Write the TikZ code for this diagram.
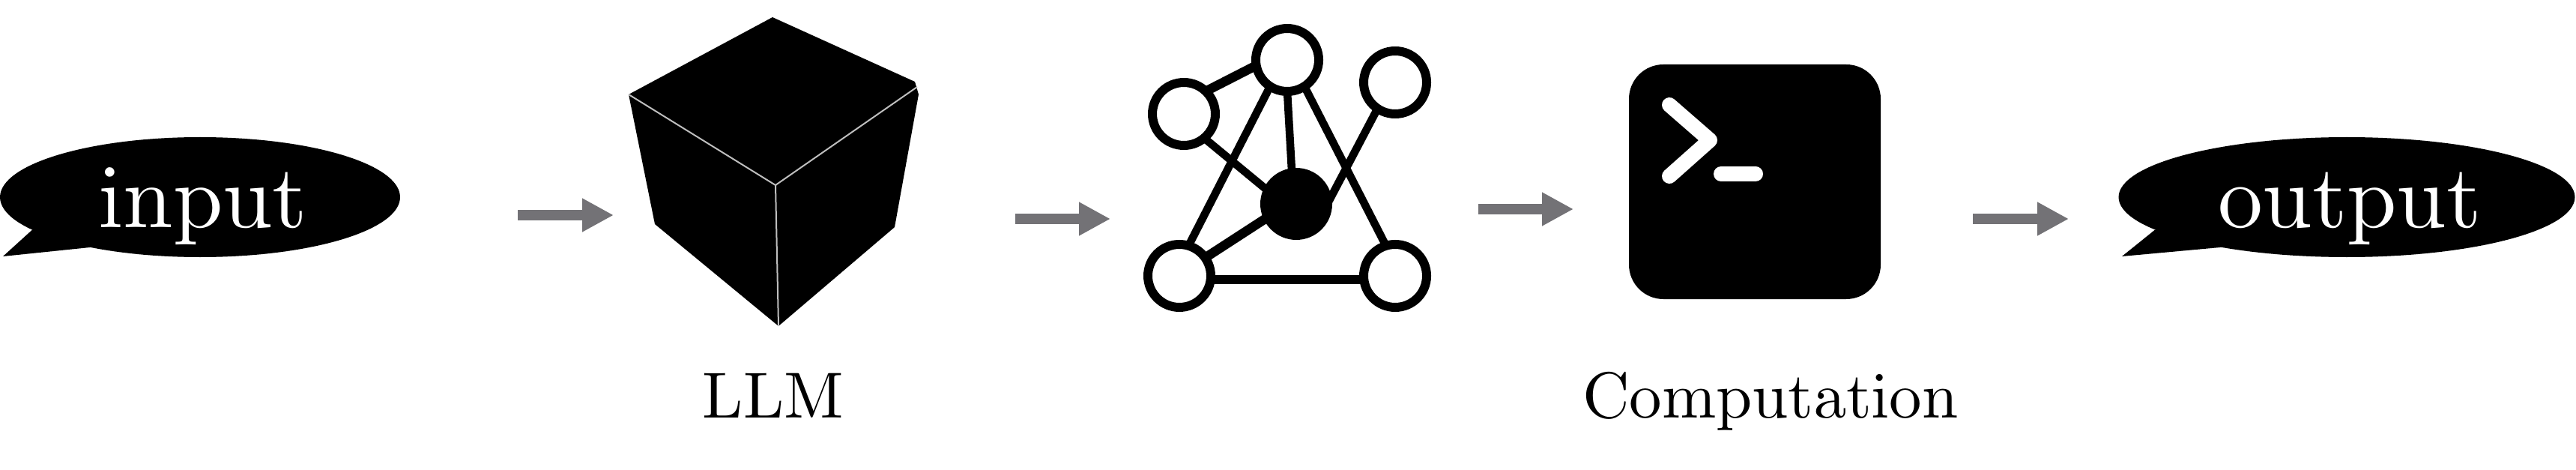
\documentclass[tikz,border=0pt]{standalone}
\usepackage{amsmath}
\usepackage{tikz}
\usetikzlibrary{arrows.meta}
\usetikzlibrary{shapes.geometric}
\definecolor{flowgray}{RGB}{115,114,118}
\definecolor{edgegray}{RGB}{190,190,190}
\font\bubblefont=cmr10 at 34pt
\font\captionfont=cmr10 at 24.7pt
\tikzset{
    bubble/.style={ellipse,fill=black,inner sep=0pt,outer sep=0pt,minimum height=1.6cm},
    bubbletext/.style={anchor=base,text=white,inner sep=0pt,font=\bubblefont},
    caption/.style={anchor=base,inner sep=0pt,font=\captionfont},
    flow/.style={draw=flowgray,line width=.14cm,-{Triangle[length=.42cm,width=.42cm,fill=flowgray]}},
    graphnode/.style={circle,draw=black,fill=white,line width=.12cm,inner sep=0pt,outer sep=0pt,minimum size=.84cm},
    graphedge/.style={draw=black,line width=.105cm},
    heavyedge/.style={draw=black,line width=.125cm},
    cubeline/.style={draw=edgegray,line width=.02cm},
    promptline/.style={draw=white,line width=.2cm,line cap=round,line join=round}
}
\begin{document}
\begin{tikzpicture}
    \useasboundingbox (0,0) rectangle (34.38,6.26);

    % input bubble
    \node[bubble,minimum width=5.34cm] (inbubble) at (2.67,3.63) {};
    \fill[black] (.04,2.84) -- (.43,3.194) -- (1.6,3.3) -- (1.2,2.96) -- cycle;
    \node[bubbletext] (intext) at (2.71,3.23) {input};

    \coordinate (flowAstart) at (6.91,3.39);
    \coordinate (flowAend) at (8.19,3.39);
    \draw[flow] (flowAstart) -- (flowAend);

    % cube
    \coordinate (cubetop) at (10.31,6.03);
    \coordinate (cubeleft) at (8.39,5.00);
    \coordinate (cubemid) at (10.35,3.79);
    \coordinate (cuberight) at (12.24,5.10);
    \coordinate (cubelow) at (10.39,1.91);
    \fill[black] (cubetop) -- (12.21,5.17) -- (12.26,5.00) -- (11.94,3.23) -- (cubelow) -- (8.74,3.27) -- (cubeleft) -- cycle;
    \draw[cubeline] (cubeleft) -- (cubemid);
    \draw[cubeline] (cuberight) -- (cubemid);
    \draw[cubeline] (cubemid) -- (cubelow);
    \node[caption] (llm) at (10.32,.69) {LLM};

    \coordinate (flowBstart) at (13.55,3.34);
    \coordinate (flowBend) at (14.82,3.34);
    \draw[flow] (flowBstart) -- (flowBend);

    % graph
    \node[graphnode] (ntop) at (17.18,5.46) {};
    \node[graphnode] (nright) at (18.62,5.16) {};
    \node[graphnode] (nleft) at (15.80,4.74) {};
    \node[graphnode] (nlowleft) at (15.74,2.58) {};
    \node[graphnode] (nlowright) at (18.62,2.58) {};
    \node[graphnode,fill=black] (nmid) at (17.30,3.54) {};
    \draw[heavyedge] (nleft.46) -- (ntop.190);
    \draw[graphedge] (nleft.310) -- (nmid.155);
    \draw[graphedge] (ntop.237) -- (nlowleft.73);
    \draw[graphedge] (ntop.270) -- (nmid.98);
    \draw[graphedge] (ntop.303) -- (nlowright.107);
    \draw[graphedge] (nright.236) -- (nmid.1);
    \draw[heavyedge] (nlowleft.35) -- (nmid.205);
    \draw[heavyedge] (nlowleft.-7) -- (nlowright.187);

    \coordinate (flowCstart) at (19.73,3.47);
    \coordinate (flowCend) at (21.00,3.47);
    \draw[flow] (flowCstart) -- (flowCend);

    % terminal
    \node[fill=black,rounded corners=.46cm,inner sep=0pt,minimum width=3.36cm,minimum height=3.13cm] (terminal) at (23.42,3.835) {};
    \draw[promptline] (22.28,4.86) -- (22.82,4.39) -- (22.28,3.91);
    \draw[promptline] (22.97,3.94) -- (23.43,3.94);
    \node[caption] (computation) at (23.63,.69) {Computation};

    \coordinate (flowDstart) at (26.33,3.34);
    \coordinate (flowDend) at (27.61,3.34);
    \draw[flow] (flowDstart) -- (flowDend);

    % output bubble
    \node[bubble,minimum width=6.09cm] (outbubble) at (31.32,3.63) {};
    \fill[black] (28.32,2.84) -- (28.76,3.194) -- (30,3.3) -- (29.63,2.96) -- cycle;
    \node[bubbletext] (outtext) at (31.36,3.23) {output};
\end{tikzpicture}
\end{document}
